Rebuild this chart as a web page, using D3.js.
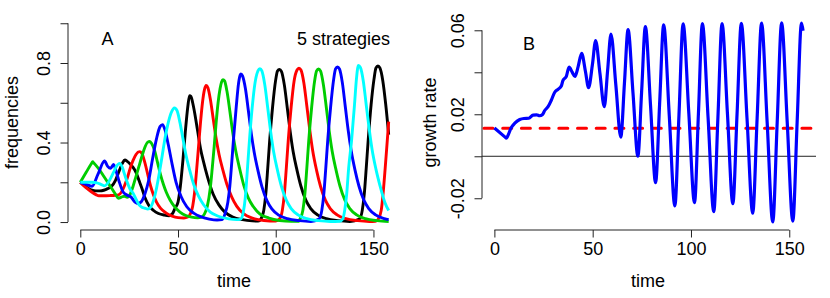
<!DOCTYPE html>
<html><head><meta charset="utf-8">
<script src="https://cdn.jsdelivr.net/npm/d3@7/dist/d3.min.js"></script>
<style>
body{margin:0;background:#fff;}
svg{display:block;font-family:"Liberation Sans",Arial,sans-serif;}
</style></head>
<body><svg id="c" width="830" height="298"></svg>
<script>
// ---------- Panel A: frequencies of 5 strategies (time, value) ----------
const seriesNames = ["black","red","green","blue","cyan"];
const seriesColors = ["#000000","#FF0000","#00CD00","#0000FF","#00FFFF"];
const blackT = [0,2,4,6,8,10,12,14,16,18,20,21.5,22.8,24,25.5,27,28.5,30,31.5,33,35,37.5,40,43,45.5,47,48.5,50,51.2,52.5,53.7,55,55.9,56.6,57.5,58.5,60,61.5,63,65,68,71,74,78,83,88,91,92.4,93.9,94.9,95.9,96.9,98.4,99.9,100.9,101.9,102.9,104.4,105.9,107.4,108.9,110.9,112.9,115.4,117.9,121.4,125.9,131.9,137.9,142.8,144.3,145.3,146.3,147.3,148.8,150.3,151.3,152.3,153.3,154.8,156.3,157.8];
const blackV = [0.2,0.185,0.17,0.16,0.157,0.157,0.16,0.168,0.18,0.21,0.26,0.295,0.312,0.305,0.292,0.275,0.25,0.21,0.17,0.125,0.085,0.058,0.043,0.035,0.032,0.04,0.07,0.1,0.18,0.31,0.45,0.58,0.636,0.632,0.6,0.55,0.46,0.37,0.305,0.23,0.14,0.085,0.05,0.025,0.012,0.006,0.005,0.015,0.06,0.14,0.27,0.41,0.58,0.71,0.76,0.768,0.758,0.69,0.575,0.455,0.355,0.26,0.18,0.11,0.068,0.036,0.017,0.007,0.003,0.015,0.06,0.14,0.27,0.41,0.59,0.72,0.775,0.785,0.775,0.71,0.59,0.44];
const redT = [0,2,4,6,8,9.5,12,15,18,19.5,21,22.5,24,25.5,27,28.5,30.3,31.5,33,34.5,36,37.5,39,41,44,47,50,53,55,56.5,57.5,58.5,59.5,60.5,61.5,62.5,63.5,64.4,65.3,66.5,68,69.5,71,73,75,77.5,80,83.5,88,94,100,101.9,103.4,104.4,105.4,106.4,107.9,109.4,110.9,111.9,112.9,114.4,115.9,117.4,118.9,120.9,122.9,125.4,127.9,131.4,135.9,141.9,147.9,151,152.5,154,155,156,157,157.8];
const redV = [0.2,0.18,0.165,0.15,0.138,0.132,0.132,0.133,0.135,0.137,0.15,0.18,0.22,0.27,0.31,0.34,0.354,0.345,0.3,0.24,0.18,0.135,0.1,0.07,0.045,0.03,0.022,0.02,0.025,0.045,0.08,0.15,0.26,0.38,0.5,0.6,0.665,0.687,0.675,0.62,0.52,0.42,0.34,0.26,0.19,0.125,0.08,0.042,0.02,0.008,0.005,0.015,0.06,0.14,0.27,0.41,0.58,0.71,0.765,0.774,0.765,0.7,0.585,0.465,0.36,0.26,0.18,0.11,0.068,0.036,0.017,0.007,0.003,0.004,0.015,0.06,0.15,0.27,0.4,0.505];
const greenT = [0,3,5.8,6.3,6.9,8,10,12,14,16,18,19.5,21,22.5,24,25.5,27,28.5,30,31.5,33,34.5,35.5,36.5,38,39.5,41,42.5,44,46,48,51,54,57,60,62,63.5,65,66.5,67.5,68.5,69.5,70.5,71.5,72.3,73,73.8,75,76.5,78,79.5,81.5,83.5,86,88.5,92,96.5,102,108,111.9,112.4,113.9,114.9,115.9,116.9,118.4,119.9,120.9,121.9,122.9,124.4,125.9,127.4,128.9,130.9,132.9,135.4,137.9,141.4,145.9,151.9,157.8];
const greenV = [0.2,0.25,0.296,0.303,0.297,0.285,0.26,0.23,0.2,0.17,0.14,0.12,0.125,0.13,0.125,0.14,0.18,0.23,0.28,0.33,0.375,0.402,0.405,0.395,0.36,0.3,0.24,0.19,0.15,0.11,0.08,0.05,0.033,0.025,0.022,0.025,0.04,0.08,0.17,0.27,0.38,0.5,0.6,0.67,0.705,0.716,0.71,0.66,0.56,0.45,0.36,0.27,0.19,0.12,0.078,0.04,0.02,0.008,0.004,0.004,0.015,0.06,0.14,0.27,0.41,0.58,0.71,0.76,0.77,0.76,0.69,0.575,0.455,0.355,0.26,0.18,0.11,0.068,0.036,0.017,0.007,0.003];
const blueT = [0,3,6,9,12.4,14,15.5,17,18.5,20,22,24,26,28,29.5,31,33,35,37,39,40.8,42.1,43.3,45,47,49,51.5,54.5,58,61.5,66,70,72.5,74,75.5,76.5,77.5,78.5,79.8,81,81.8,82.2,83,84.5,86,87.5,89,91,93,95.5,98,101.5,106,112,118,122.1,123.6,124.6,125.6,126.6,128.1,129.6,130.6,131.6,132.6,134.1,135.6,137.1,138.6,140.6,142.6,145.1,147.6,151.1,155.6,157.8];
const blueV = [0.2,0.19,0.18,0.24,0.307,0.28,0.27,0.29,0.25,0.2,0.15,0.135,0.125,0.1,0.093,0.1,0.14,0.21,0.32,0.42,0.48,0.49,0.465,0.39,0.29,0.2,0.13,0.077,0.045,0.027,0.015,0.01,0.012,0.04,0.1,0.18,0.3,0.43,0.58,0.7,0.74,0.745,0.735,0.67,0.56,0.445,0.35,0.255,0.176,0.108,0.066,0.035,0.017,0.007,0.003,0.015,0.06,0.14,0.27,0.41,0.58,0.715,0.77,0.78,0.77,0.7,0.58,0.46,0.36,0.26,0.18,0.11,0.068,0.036,0.017,0.012];
const cyanT = [0,3,6,8.5,10.5,12.5,14,15.5,17,18.5,20.1,21.3,22.5,24,25.5,27,28.5,30,31.5,33,34.5,36,37.5,39,40.5,42,43.5,45,46.5,48.2,49.5,51,52.5,54,56,58,60.5,63,66.5,71,76,80,82,83.4,84.4,85.4,86.4,87.9,89.4,90.9,91.9,92.9,94.4,95.9,97.4,98.9,100.9,102.9,105.4,107.9,111.4,115.9,121.9,127.9,132.8,134.3,135.3,136.3,137.3,138.8,140.3,141.3,142.3,143.3,144.8,146.3,147.8,149.3,151.3,153.3,155.8,157.8];
const cyanV = [0.2,0.2,0.2,0.197,0.19,0.182,0.195,0.22,0.25,0.28,0.295,0.28,0.245,0.2,0.165,0.145,0.115,0.088,0.075,0.07,0.065,0.075,0.11,0.17,0.25,0.34,0.43,0.5,0.55,0.574,0.56,0.5,0.42,0.34,0.26,0.19,0.13,0.088,0.05,0.028,0.016,0.012,0.015,0.05,0.12,0.25,0.39,0.57,0.7,0.76,0.771,0.76,0.69,0.575,0.455,0.355,0.26,0.18,0.11,0.068,0.036,0.017,0.007,0.003,0.004,0.015,0.06,0.14,0.27,0.41,0.59,0.72,0.788,0.778,0.71,0.59,0.47,0.365,0.265,0.185,0.1,0.058];
const seriesT = [blackT, redT, greenT, blueT, cyanT];
const seriesV = [blackV, redV, greenV, blueV, cyanV];

// ---------- Panel B: growth rate ----------
const growthT = [0,5.6,6.1,6.6,8.5,10.4,12.9,15,17.5,19.7,21.5,23,24.5,25.6,27.3,29,30.7,32.4,34.1,34.9,36.6,38,39.5,41,42.6,44.4,46.3,47.9,49.9,51.5,53.7,55.9,57.6,59.3,61.8,64.3,66.15,68,70.5,73,74.9,76.8,79.4,82,84.05,86.1,88.95,91.8,93.9,96,98.9,101.8,103.8,105.8,108.7,111.6,113.7,115.8,118.55,121.3,123.45,125.6,128.5,131.4,133.65,135.9,138.75,141.6,143.85,146.1,148.95,151.8,154,156.2,157];
const growthV = [0.0135,0.009,0.0086,0.0093,0.0135,0.0158,0.0175,0.018,0.0181,0.0196,0.0197,0.0193,0.0199,0.0218,0.0236,0.0268,0.0305,0.0319,0.0336,0.0362,0.0381,0.0425,0.0402,0.038,0.0427,0.049,0.0405,0.0327,0.0439,0.0551,0.0394,0.0236,0.0409,0.0582,0.0337,0.0091,0.0347,0.0603,0.0302,0.0,0.0309,0.0618,0.0246,-0.0126,0.025,0.0626,0.0195,-0.0236,0.0198,0.0631,0.0205,-0.0221,0.0206,0.0632,0.0184,-0.0264,0.0184,0.0632,0.0203,-0.0226,0.0204,0.0633,0.0181,-0.0271,0.0182,0.0634,0.0161,-0.0313,0.0161,0.0635,0.0163,-0.0309,0.0163,0.0634,0.0598];
const meanGrowth = 0.0134;

const xTicks = [0,50,100,150];
const yTicksA = [0,0.2,0.4,0.6,0.8,1.0];
const yLabelsA = ["0.0","","0.4","","0.8",""];
const yTicksB = [-0.02,0,0.02,0.04,0.06];
const yLabelsB = ["-0.02","","0.02","","0.06"];

const svg = d3.select("#c");
const FS = 18;

// scales
const xA = d3.scaleLinear().domain([-6.3,164.1]).range([68,401]);
const yA = d3.scaleLinear().domain([-0.04,1.04]).range([230,15.3]);
const xB = d3.scaleLinear().domain([-6.3,164.1]).range([482,817]);
const yB = d3.scaleLinear().domain([-0.0354,0.0679]).range([230.6,13.7]);

function drawAxes(x, y, yt, yl, xLabelX, yLabelX, yTitle, axisX, axisY){
  const gx = svg.append("g").attr("transform",`translate(0,${axisY})`)
    .call(d3.axisBottom(x).tickValues(xTicks).tickSize(7.5).tickSizeOuter(0).tickFormat(d3.format("d")));
  gx.select(".domain").remove();
  gx.append("line").attr("x1",x(xTicks[0])).attr("x2",x(xTicks[xTicks.length-1])).attr("stroke","#222");
  gx.selectAll(".tick line").attr("stroke","#222");
  gx.selectAll(".tick text").attr("y",25).attr("dy",0).attr("fill","#000")
    .style("font-size",FS+"px").style("font-family","Liberation Sans, Arial, sans-serif");

  const gy = svg.append("g").attr("transform",`translate(${axisX},0)`)
    .call(d3.axisLeft(y).tickValues(yt).tickSize(7.5).tickSizeOuter(0).tickFormat((d,i)=>yl[i]));
  gy.select(".domain").remove();
  gy.append("line").attr("y1",y(yt[0])).attr("y2",y(yt[yt.length-1])).attr("stroke","#222");
  gy.selectAll(".tick line").attr("stroke","#222");
  gy.selectAll(".tick text").attr("transform","rotate(-90)").attr("x",0).attr("y",-18).attr("dy",0)
    .attr("text-anchor","middle").attr("fill","#000")
    .style("font-size",FS+"px").style("font-family","Liberation Sans, Arial, sans-serif");

  svg.append("text").attr("x",xLabelX).attr("y",287).attr("text-anchor","middle")
    .style("font-size",FS+"px").text("time");
  svg.append("text").attr("transform",`translate(${yLabelX},122.5) rotate(-90)`).attr("text-anchor","middle")
    .style("font-size",FS+"px").text(yTitle);
}

// Panel A
drawAxes(xA, yA, yTicksA, yLabelsA, 234, 18, "frequencies", 68, 230);
const lineA = d3.line().curve(d3.curveMonotoneX);
seriesT.forEach((ts,k)=>{
  const pts = ts.map((t,i)=>[xA(t), yA(seriesV[k][i])]);
  svg.append("path").attr("d", lineA(pts)).attr("fill","none")
    .attr("stroke", seriesColors[k]).attr("stroke-width",2.9).attr("stroke-linejoin","round").attr("stroke-linecap","butt");
});
svg.append("text").attr("x",107.5).attr("y",45).attr("text-anchor","middle").style("font-size",FS+"px").text("A");
svg.append("text").attr("x",390).attr("y",45).attr("text-anchor","end").style("font-size",FS+"px").text("5 strategies");

// Panel B
drawAxes(xB, yB, yTicksB, yLabelsB, 648, 436, "growth rate", 482, 230);
svg.append("line").attr("x1",482).attr("x2",816).attr("y1",yB(0)).attr("y2",yB(0)).attr("stroke","#222").attr("stroke-width",1);
svg.append("line").attr("x1",484).attr("x2",816).attr("y1",yB(meanGrowth)).attr("y2",yB(meanGrowth))
  .attr("stroke","#FF0000").attr("stroke-width",3).attr("stroke-dasharray","9,9.7").attr("stroke-linecap","round");
const lineB = d3.line().curve(d3.curveMonotoneX);
svg.append("path").attr("d", lineB(growthT.map((t,i)=>[xB(t), yB(growthV[i])])))
  .attr("fill","none").attr("stroke","#0000FF").attr("stroke-width",3.2).attr("stroke-linejoin","round");
svg.append("text").attr("x",529).attr("y",50).attr("text-anchor","middle").style("font-size",FS+"px").text("B");
</script></body></html>
